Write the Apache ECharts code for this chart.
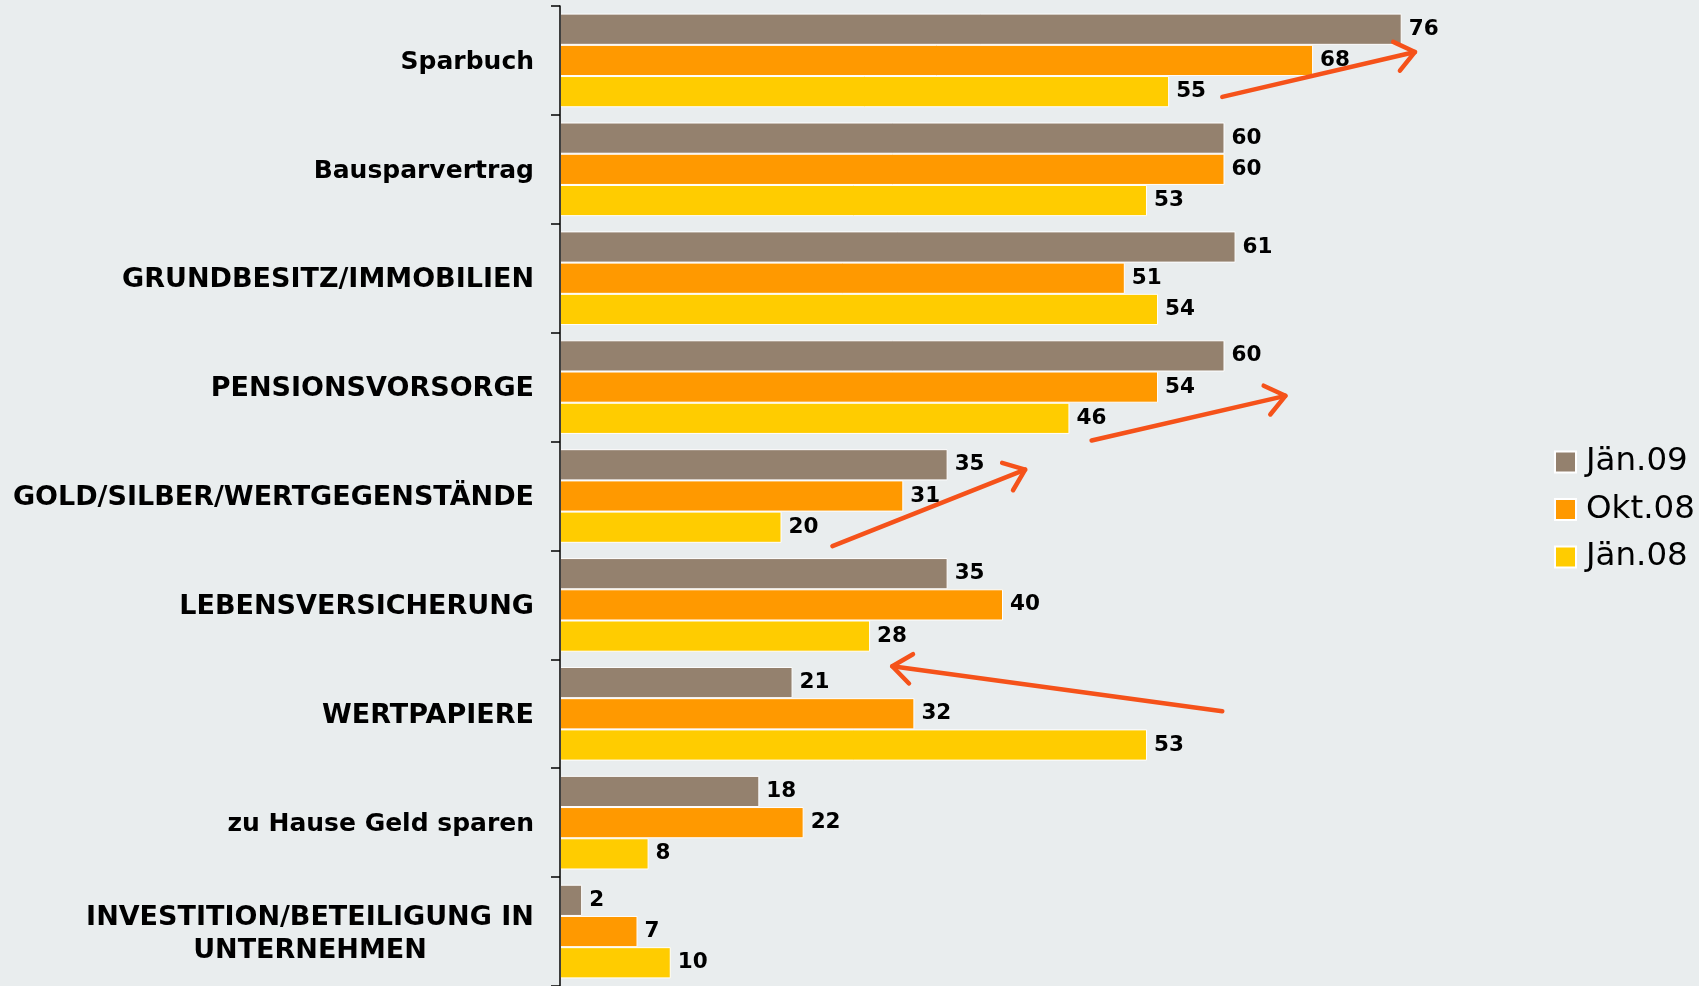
<!DOCTYPE html>
<html>
<head>
<meta charset="utf-8">
<script src="https://cdn.jsdelivr.net/npm/echarts@6/dist/echarts.min.js"></script>
<style>
  html, body { margin: 0; padding: 0; background: #e9edee; }
  #chart { width: 1699px; height: 986px; }
</style>
</head>
<body>
<div id="chart"></div>
<script>
const categories = [
  'Sparbuch',
  'Bausparvertrag',
  'GRUNDBESITZ/IMMOBILIEN',
  'PENSIONSVORSORGE',
  'GOLD/SILBER/WERTGEGENSTÄNDE',
  'LEBENSVERSICHERUNG',
  'WERTPAPIERE',
  'zu Hause Geld sparen',
  'INVESTITION/BETEILIGUNG IN\nUNTERNEHMEN'
]
const seriesNames = ['Jän.09', 'Okt.08', 'Jän.08']
const jan09 = [76, 60, 61, 60, 35, 35, 21, 18, 2]
const okt08 = [68, 60, 51, 54, 31, 40, 32, 22, 7]
const jan08 = [55, 53, 54, 46, 20, 28, 53, 8, 10]
const colors = ['#94816e', '#ff9900', '#ffcc00']

// arrows: [x1, category pos 1, x2, category pos 2] (head at the 2nd point)
const arrows = [
  [59.8, 0.335, 77.2, -0.078],
  [48.0, 3.49, 65.5, 3.08],
  [24.6, 4.46, 42.0, 3.757],
  [59.8, 5.977, 30.0, 5.564]
]

const measure = (text, size) => {
  const ctx = document.createElement('canvas').getContext('2d')
  ctx.font = 'bold ' + size + 'px "DejaVu Sans"'
  return ctx.measureText(text).width
}

const chart = echarts.init(document.getElementById('chart'))

const barSeries = [jan09, okt08, jan08].map((data, i) => ({
  name: seriesNames[i],
  type: 'bar',
  data: data,
  barGap: '0%',
  barCategoryGap: '14%',
  itemStyle: { color: colors[i], borderColor: '#fff', borderWidth: 1 },
  label: {
    show: true,
    position: 'right',
    distance: 7,
    color: '#000',
    fontFamily: 'DejaVu Sans',
    fontWeight: 'bold',
    fontSize: 21.5
  },
  animation: false
}))

const base = { fontFamily: 'DejaVu Sans', fontWeight: 'bold', color: '#000' }

chart.setOption({
  backgroundColor: '#e9edee',
  grid: { left: 560, top: 6, width: 1107.5, height: 981 },
  legend: {
    orient: 'vertical',
    left: 1554,
    top: 444,
    padding: 0,
    itemWidth: 21,
    itemHeight: 21,
    itemGap: 11.5,
    icon: 'rect',
    textStyle: {
      fontFamily: 'DejaVu Sans',
      fontSize: 32.5,
      lineHeight: 36,
      color: '#000',
      padding: [0, 0, 0, 5]
    },
    data: seriesNames
  },
  xAxis: {
    type: 'value',
    min: 0,
    max: 100,
    show: false
  },
  yAxis: {
    type: 'category',
    inverse: true,
    z: 5,
    data: categories,
    axisLine: { show: true, lineStyle: { color: '#000', width: 1.5 } },
    axisTick: { show: true, interval: 0, length: 9, lineStyle: { color: '#000', width: 1.5 } },
    axisLabel: {
      margin: 26,
      color: '#000',
      fontFamily: 'DejaVu Sans',
      fontWeight: 'bold',
      fontSize: 26,
      formatter: (value) => {
        if (value.indexOf('\n') >= 0) {
          return value.split('\n').map(s => '{c|' + s + '}').join('\n')
        }
        return value === value.toUpperCase() ? '{u|' + value + '}' : '{l|' + value + '}'
      },
      rich: {
        u: Object.assign({ fontSize: 27, padding: [4, 0, 0, 0] }, base),
        l: Object.assign({ fontSize: 25, padding: [4, 0, 0, 0] }, base),
        c: Object.assign({
          width: Math.ceil(measure('INVESTITION/BETEILIGUNG IN', 27)),
          align: 'center',
          fontSize: 27,
          lineHeight: 33,
          padding: [5, 0, 0, 0]
        }, base)
      }
    }
  },
  series: barSeries
})

// arrows drawn from data positions
const p0 = chart.convertToPixel({ gridIndex: 0 }, [0, 0])
const p1 = chart.convertToPixel({ gridIndex: 0 }, [0, 1])
const band = p1[1] - p0[1]
const toPx = (x, c) => {
  const px = chart.convertToPixel({ gridIndex: 0 }, [x, 0])
  return [px[0], p0[1] + c * band]
}
const graphics = []
arrows.forEach(a => {
  const s = toPx(a[0], a[1])
  const e = toPx(a[2], a[3])
  const dx = e[0] - s[0], dy = e[1] - s[1]
  const len = Math.sqrt(dx * dx + dy * dy)
  const ux = dx / len, uy = dy / len
  const head = 24, ang = 38 * Math.PI / 180
  const rot = (t) => [
    e[0] - head * (ux * Math.cos(t) - uy * Math.sin(t)),
    e[1] - head * (ux * Math.sin(t) + uy * Math.cos(t))
  ]
  const style = { stroke: '#f5521a', lineWidth: 4.5, lineCap: 'round', lineJoin: 'round', fill: null }
  graphics.push({ type: 'polyline', shape: { points: [s, e] }, style: style, z: 10 })
  graphics.push({ type: 'polyline', shape: { points: [rot(ang), e, rot(-ang)] }, style: style, z: 10 })
})
chart.setOption({ graphic: graphics })
</script>
</body>
</html>
